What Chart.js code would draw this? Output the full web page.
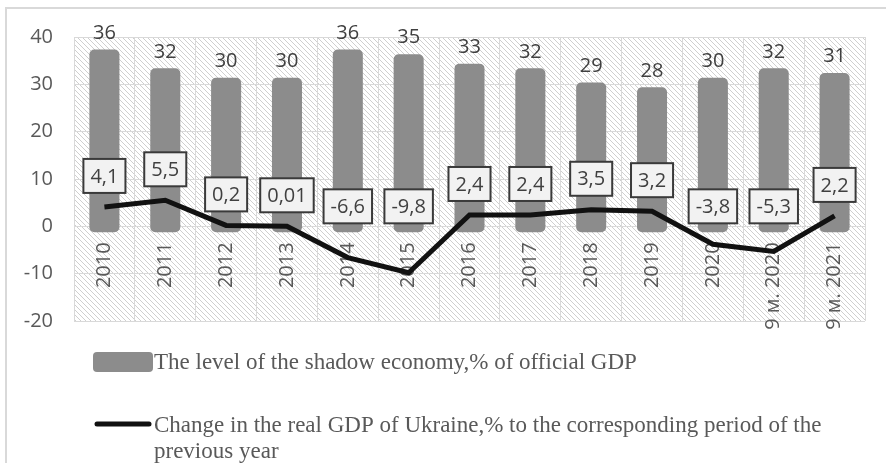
<!DOCTYPE html>
<html lang="en">
<head>
    <meta charset="UTF-8">
    <title>Shadow economy and real GDP of Ukraine</title>
    <script src="https://cdn.jsdelivr.net/npm/chart.js"></script>
    <style>
        body { margin: 0; background: #fff; }
        #wrap { width: 886px; height: 463px; }
    </style>
</head>
<body>
    <div id="wrap"><canvas id="shadowChart" width="886" height="463"></canvas></div>

    <script>
        const categories = ['2010', '2011', '2012', '2013', '2014', '2015', '2016', '2017', '2018', '2019', '2020', '9 м. 2020', '9 м. 2021'];
        const shadowLevel = [36, 32, 30, 30, 36, 35, 33, 32, 29, 28, 30, 32, 31];
        const gdpChange = [4.1, 5.5, 0.2, 0.01, -6.6, -9.8, 2.4, 2.4, 3.5, 3.2, -3.8, -5.3, 2.2];
        const yTicks = { min: -20, max: 40, step: 10 };
        const legendShadow = 'The level of the shadow economy,% of official GDP';
        const legendGdp = ['Change in the real GDP of Ukraine,% to the corresponding period of the', 'previous year'];

        const fmt = v => String(v).replace('.', ',');
        const sansFont = '"Open Sans", "Noto Sans", sans-serif';

        // diagonal hatch for the plot background
        function makeHatch(ctx) {
            const c = document.createElement('canvas');
            c.width = 5; c.height = 5;
            const p = c.getContext('2d');
            p.fillStyle = '#ffffff';
            p.fillRect(0, 0, 5, 5);
            p.strokeStyle = '#cfcfcf';
            p.lineWidth = 1;
            p.beginPath();
            p.moveTo(-1, -1); p.lineTo(6, 6);
            p.moveTo(-1, 4); p.lineTo(1, 6);
            p.moveTo(4, -1); p.lineTo(6, 1);
            p.stroke();
            return ctx.createPattern(c, 'repeat');
        }

        const framePlugin = {
            id: 'frame',
            beforeDraw(chart) {
                const { ctx, chartArea: a } = chart;
                ctx.save();
                ctx.strokeStyle = '#d9d9d9';
                ctx.lineWidth = 2;
                ctx.strokeRect(6, 8, 2000, 2000);
                ctx.fillStyle = makeHatch(ctx);
                ctx.fillRect(a.left, a.top, a.right - a.left, a.bottom - a.top);
                ctx.restore();
            }
        };

        const labelsPlugin = {
            id: 'valueLabels',
            afterDatasetsDraw(chart) {
                const { ctx } = chart;
                const y = chart.scales.y;
                const zeroY = y.getPixelForValue(0);
                ctx.save();
                ctx.font = '20px ' + sansFont;
                ctx.textAlign = 'center';
                ctx.textBaseline = 'middle';

                // bar values
                const barMeta = chart.getDatasetMeta(0);
                barMeta.data.forEach((bar, i) => {
                    ctx.fillStyle = '#404040';
                    ctx.fillText(fmt(shadowLevel[i]), bar.x, y.getPixelForValue(shadowLevel[i]) - 23);
                });

                // boxed line values
                const lineMeta = chart.getDatasetMeta(1);
                lineMeta.data.forEach((pt, i) => {
                    const txt = fmt(gdpChange[i]);
                    const cy = Math.min(pt.y - 31, zeroY - 20);
                    const w = ctx.measureText(txt).width + 14;
                    const h = 34;
                    ctx.fillStyle = '#f2f2f2';
                    ctx.fillRect(pt.x - w / 2, cy - h / 2, w, h);
                    ctx.strokeStyle = '#3a3a3a';
                    ctx.lineWidth = 2;
                    ctx.strokeRect(pt.x - w / 2, cy - h / 2, w, h);
                    ctx.fillStyle = '#404040';
                    ctx.fillText(txt, pt.x, cy + 1);
                });
                ctx.restore();
            },
            afterDraw(chart) {
                const { ctx } = chart;
                ctx.save();
                // legend
                ctx.fillStyle = '#8c8c8c';
                ctx.beginPath();
                ctx.roundRect(93, 352, 60, 20, 4);
                ctx.fill();
                ctx.strokeStyle = '#111111';
                ctx.lineWidth = 5;
                ctx.lineCap = 'round';
                ctx.beginPath();
                ctx.moveTo(97, 424);
                ctx.lineTo(149, 424);
                ctx.stroke();

                ctx.font = '23px "Liberation Serif", "Times New Roman", serif';
                ctx.fillStyle = '#595959';
                ctx.textAlign = 'left';
                ctx.textBaseline = 'alphabetic';
                ctx.fillText(legendShadow, 154, 369);
                ctx.fillText(legendGdp[0], 154, 432);
                ctx.fillText(legendGdp[1], 154, 458);
                ctx.restore();
            }
        };

        const ctx = document.getElementById('shadowChart').getContext('2d');
        new Chart(ctx, {
            data: {
                labels: categories,
                datasets: [
                    {
                        type: 'bar',
                        label: legendShadow,
                        data: shadowLevel,
                        backgroundColor: '#8c8c8c',
                        borderRadius: 5,
                        borderSkipped: false,
                        inflateAmount: 6.5,
                        barPercentage: 0.28,
                        categoryPercentage: 1,
                        order: 2
                    },
                    {
                        type: 'line',
                        label: legendGdp.join(' '),
                        data: gdpChange,
                        borderColor: '#111111',
                        borderWidth: 5,
                        pointRadius: 0,
                        tension: 0,
                        order: 1
                    }
                ]
            },
            options: {
                responsive: false,
                animation: false,
                layout: { padding: { left: 0, top: 37, right: 21, bottom: 142 } },
                plugins: { legend: { display: false }, tooltip: { enabled: false } },
                scales: {
                    x: {
                        position: { y: 0 },
                        offset: true,
                        afterFit: s => { s.height = 0; },
                        grid: { color: '#d9d9d9', lineWidth: 1, offset: true, drawTicks: false },
                        border: { color: '#d9d9d9' },
                        ticks: {
                            autoSkip: false,
                            minRotation: 90,
                            maxRotation: 90,
                            padding: 16,
                            color: '#595959',
                            font: { family: sansFont, size: 20 }
                        }
                    },
                    y: {
                        min: yTicks.min,
                        max: yTicks.max,
                        afterFit: s => { s.width = 74; },
                        grid: { color: '#d9d9d9', lineWidth: 1, drawTicks: false },
                        border: { color: '#d9d9d9' },
                        ticks: {
                            stepSize: yTicks.step,
                            padding: 21,
                            color: '#595959',
                            font: { family: sansFont, size: 20 }
                        }
                    }
                }
            },
            plugins: [framePlugin, labelsPlugin]
        });
    </script>
</body>
</html>
